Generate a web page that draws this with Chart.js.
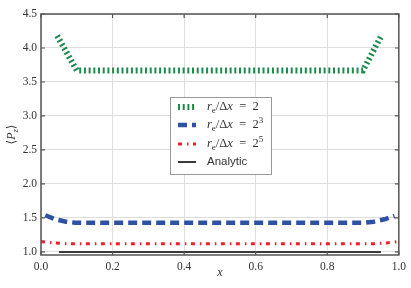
<!DOCTYPE html>
<html><head><meta charset="utf-8">
<script src="https://cdn.jsdelivr.net/npm/chart.js@4"></script>
<style>html,body{margin:0;padding:0;background:#fff}#wrap{width:411px;height:288px}</style>
</head><body><div id="wrap"><canvas id="c" width="411" height="288"></canvas></div>
<script>
// ---- data ----
const greenX = [0.045, 0.1, 0.9, 0.95];
const greenY = [4.18, 3.67, 3.67, 4.17];
const blueX = [0.012, 0.04, 0.07, 0.095, 0.5, 0.905, 0.93, 0.96, 0.988];
const blueY = [1.54, 1.48, 1.445, 1.43, 1.43, 1.43, 1.445, 1.48, 1.53];
const redX = [0.0, 0.03, 0.07, 0.1, 0.5, 0.9, 0.93, 0.97, 1.0];
const redY = [1.155, 1.135, 1.122, 1.12, 1.12, 1.12, 1.122, 1.135, 1.155];
const analyticX = [0.05, 0.95];
const analyticY = [1.0, 1.0];
const yTicks = [1.0, 1.5, 2.0, 2.5, 3.0, 3.5, 4.0, 4.5];
const xTicks = [0.0, 0.2, 0.4, 0.6, 0.8, 1.0];
// legend labels as segments: [text, style]  (i=italic, n=normal, sub, sup, sans)
const seriesLabels = [
  [["r","i"],["e","sub"],["/Δ","n"],["x","i"],["  =  2","n"]],
  [["r","i"],["e","sub"],["/Δ","n"],["x","i"],["  =  2","n"],["3","sup"]],
  [["r","i"],["e","sub"],["/Δ","n"],["x","i"],["  =  2","n"],["5","sup"]],
  [["Analytic","sans"]]
];
const xTitle = [["x","i"]];
const yTitle = [["⟨","n"],["P","i"],["z","isub"],["⟩","n"]];

const pts = (xs, ys) => xs.map((x, i) => ({x, y: ys[i]}));
const SERIF = '"Liberation Serif", "DejaVu Serif", serif';

const styles = [
  {color:'#1d8a4e', width:6, dash:[2,2.7]},
  {color:'#2d52a3', width:4.5, dash:[9,5]},
  {color:'#ef1f2a', width:3, dash:[4,5,1.5,4.5]},
  {color:'#3a3a3a', width:2, dash:[]}
];

function fontFor(st, size){
  if (st === 'i' || st === 'isub') return 'italic ' + (st==='isub'? size*0.72 : size) + 'px ' + SERIF;
  if (st === 'sub' || st === 'sup') return (size*0.72) + 'px ' + SERIF;
  if (st === 'sans') return size + 'px "Liberation Sans", Arial, sans-serif';
  return size + 'px ' + SERIF;
}
function segWidth(ctx, segs, size){
  let w=0; for (const [t,st] of segs){ ctx.font=fontFor(st,size); w+=ctx.measureText(t).width; } return w;
}
function drawSegs(ctx, segs, x, y, size){
  ctx.textBaseline='middle'; ctx.textAlign='left';
  for (const [t,st] of segs){
    ctx.font=fontFor(st,size);
    let dy=0; if (st==='sub'||st==='isub') dy=size*0.3; if (st==='sup') dy=-size*0.38;
    ctx.fillText(t, x, y+dy); x+=ctx.measureText(t).width;
  }
}

const decor = {
  id:'decor',
  afterDatasetsDraw(chart){
    const ctx=chart.ctx, a=chart.chartArea, xs=chart.scales.x, ys=chart.scales.y;
    ctx.save();
    // inward ticks
    ctx.strokeStyle='#555'; ctx.lineWidth=1.2; ctx.setLineDash([]);
    for (const v of xTicks){ const px=xs.getPixelForValue(v);
      ctx.beginPath(); ctx.moveTo(px,a.bottom); ctx.lineTo(px,a.bottom-4); ctx.moveTo(px,a.top); ctx.lineTo(px,a.top+4); ctx.stroke(); }
    for (const v of yTicks){ const py=ys.getPixelForValue(v);
      ctx.beginPath(); ctx.moveTo(a.left,py); ctx.lineTo(a.left+4,py); ctx.moveTo(a.right,py); ctx.lineTo(a.right-4,py); ctx.stroke(); }
    // frame
    ctx.strokeStyle='#555'; ctx.lineWidth=1.5;
    ctx.strokeRect(a.left, a.top, a.right-a.left, a.bottom-a.top);
    // legend
    const lx=170, ly=97, lw=101, lh=77;
    ctx.fillStyle='#fff'; ctx.fillRect(lx,ly,lw,lh);
    ctx.strokeStyle='#999'; ctx.lineWidth=1; ctx.strokeRect(lx+0.5,ly+0.5,lw,lh);
    const rows=[107,125,144,162];
    seriesLabels.forEach((segs,i)=>{
      const s=styles[i];
      ctx.strokeStyle=s.color; ctx.lineWidth=s.width; ctx.setLineDash(s.dash); ctx.lineCap='butt';
      ctx.beginPath(); ctx.moveTo(178,rows[i]); ctx.lineTo(196,rows[i]); ctx.stroke();
      ctx.setLineDash([]);
      ctx.fillStyle='#333';
      drawSegs(ctx, segs, 207, rows[i], i===3?11.5:12.5);
    });
    // axis titles
    ctx.fillStyle='#333';
    const xw=segWidth(ctx,xTitle,12);
    drawSegs(ctx, xTitle, (a.left+a.right)/2 - xw/2, 273, 12);
    ctx.translate(12,(a.top+a.bottom)/2); ctx.rotate(-Math.PI/2);
    const yw=segWidth(ctx,yTitle,12);
    drawSegs(ctx, yTitle, -yw/2, 0, 12);
    ctx.restore();
  }
};

const mk = (label, xs, ys, s) => ({label, data: pts(xs,ys), borderColor:s.color, borderWidth:s.width,
  borderDash:s.dash, borderCapStyle:'butt', pointRadius:0, fill:false, tension:0});

new Chart(document.getElementById('c'), {
  type:'line',
  data:{datasets:[
    mk('re/Δx = 2', greenX, greenY, styles[0]),
    mk('re/Δx = 2^3', blueX, blueY, styles[1]),
    mk('re/Δx = 2^5', redX, redY, styles[2]),
    mk('Analytic', analyticX, analyticY, styles[3])
  ]},
  options:{
    responsive:false, animation:false,
    layout:{padding:{left:0,top:14,right:11,bottom:0}},
    plugins:{legend:{display:false}, tooltip:{enabled:false}},
    scales:{
      x:{type:'linear', min:0, max:1,
        afterBuildTicks:s=>{s.ticks=xTicks.map(v=>({value:v}));},
        afterFit:s=>{s.height=33;},
        border:{display:false},
        grid:{color:'#dedede', lineWidth:1, drawTicks:false},
        ticks:{padding:5, color:'#333', font:{family:SERIF, size:11.5}, callback:v=>v.toFixed(1), maxRotation:0}
      },
      y:{min:0.955, max:4.5,
        afterBuildTicks:s=>{s.ticks=yTicks.map(v=>({value:v}));},
        afterFit:s=>{s.width=41;},
        border:{display:false},
        grid:{color:'#dedede', lineWidth:1, drawTicks:false},
        ticks:{padding:4, color:'#333', font:{family:SERIF, size:11.5}, callback:v=>v.toFixed(1)}
      }
    }
  },
  plugins:[decor]
});
</script></body></html>
